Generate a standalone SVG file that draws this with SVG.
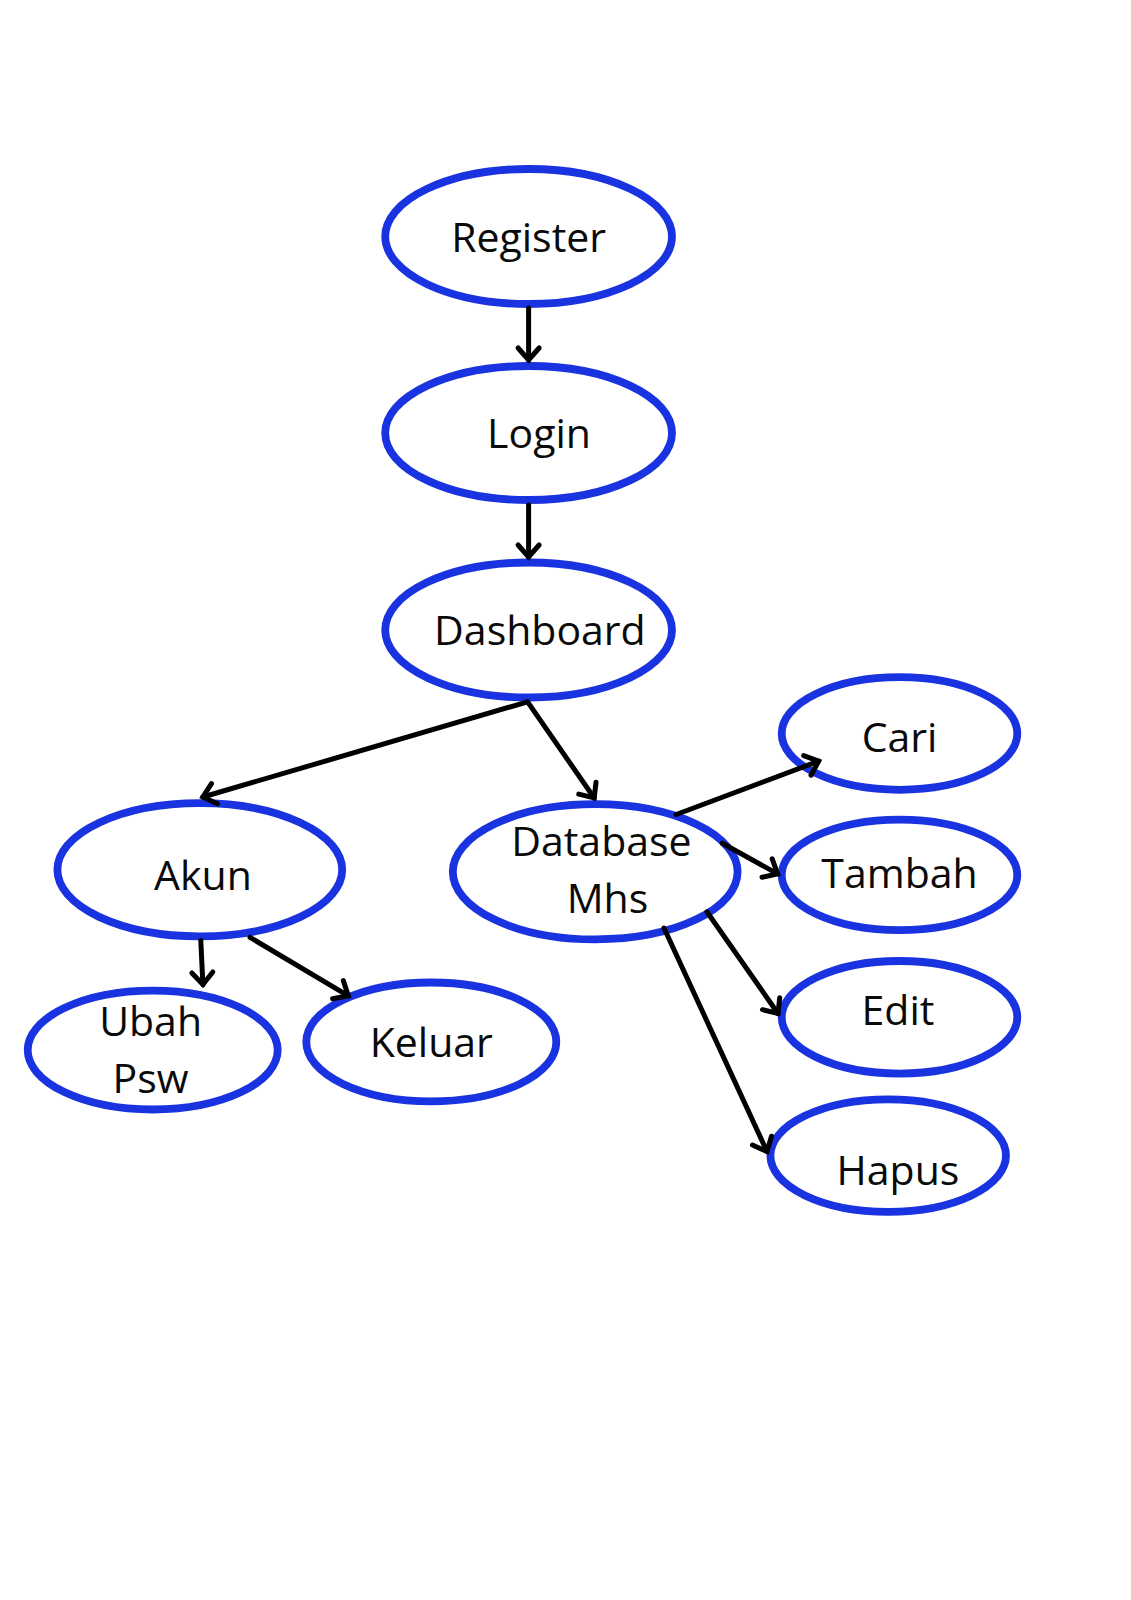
<svg xmlns="http://www.w3.org/2000/svg" width="1131" height="1600" viewBox="0 0 1131 1600">
<style>
.node ellipse{fill:#fff;stroke:#1a33e0;stroke-width:7.8}
.node text{font-family:"Open Sans","Noto Sans",sans-serif;font-size:41px;fill:#0a0a0a;text-anchor:middle}
.edge{stroke:#000;stroke-width:5;fill:none;stroke-linecap:round;marker-end:url(#arr)}
</style>
<defs>
<marker id="arr" markerUnits="userSpaceOnUse" markerWidth="34" markerHeight="34" viewBox="-17 -17 34 34" refX="0" refY="0" orient="auto">
<path d="M-12,-10.5 L0,0 L-12,10.5" fill="none" stroke="#000" stroke-width="5" stroke-linecap="round" stroke-linejoin="miter"/>
</marker>
</defs>
<rect width="1131" height="1600" fill="#fff"/>
<g id="register" class="node"><ellipse cx="528.6" cy="236.5" rx="143.4" ry="67.5"/><text x="528.6" y="252">Register</text></g>
<g id="login" class="node"><ellipse cx="528.6" cy="433" rx="143.4" ry="67"/><text x="539" y="448">Login</text></g>
<g id="dashboard" class="node"><ellipse cx="528.6" cy="630" rx="143.4" ry="67.5"/><text x="539.9" y="645">Dashboard</text></g>
<g id="cari" class="node"><ellipse cx="899.5" cy="733.5" rx="117.8" ry="56.3"/><text x="899.5" y="752">Cari</text></g>
<g id="akun" class="node"><ellipse cx="199.8" cy="869.8" rx="142.4" ry="66.6"/><text x="202.9" y="890">Akun</text></g>
<g id="database" class="node"><ellipse cx="595.2" cy="871.8" rx="142.4" ry="67.6"/><text x="601.4" y="855.5">Database</text><text x="607.5" y="913">Mhs</text></g>
<g id="tambah" class="node"><ellipse cx="899.5" cy="874.9" rx="117.8" ry="55.3"/><text x="899.5" y="888">Tambah</text></g>
<g id="edit" class="node"><ellipse cx="899.5" cy="1017.3" rx="117.8" ry="56.3"/><text x="898" y="1025">Edit</text></g>
<g id="hapus" class="node"><ellipse cx="888.2" cy="1155.6" rx="117.8" ry="56.3"/><text x="898" y="1185">Hapus</text></g>
<g id="ubah" class="node"><ellipse cx="152.7" cy="1050.1" rx="125" ry="59.4"/><text x="150.6" y="1036">Ubah</text><text x="150.6" y="1093">Psw</text></g>
<g id="keluar" class="node"><ellipse cx="431.3" cy="1041.9" rx="125" ry="59.4"/><text x="431.3" y="1057">Keluar</text></g>
<g id="connectors">
<line class="edge" x1="528.6" y1="308" x2="528.6" y2="360"/>
<line class="edge" x1="528.6" y1="505" x2="528.6" y2="557"/>
<line class="edge" x1="527.6" y1="701.8" x2="202.9" y2="797"/>
<line class="edge" x1="527.6" y1="701.8" x2="594.2" y2="798"/>
<line class="edge" x1="676.2" y1="814.5" x2="818.6" y2="761.2"/>
<line class="edge" x1="722.3" y1="843.2" x2="777.6" y2="873.9"/>
<line class="edge" x1="706.9" y1="911.8" x2="778" y2="1013.5"/>
<line class="edge" x1="664" y1="928" x2="767" y2="1151.5"/>
<line class="edge" x1="200.8" y1="940.5" x2="202.9" y2="984.5"/>
<line class="edge" x1="250" y1="937.4" x2="348.3" y2="995.8"/>
</g>
</svg>
